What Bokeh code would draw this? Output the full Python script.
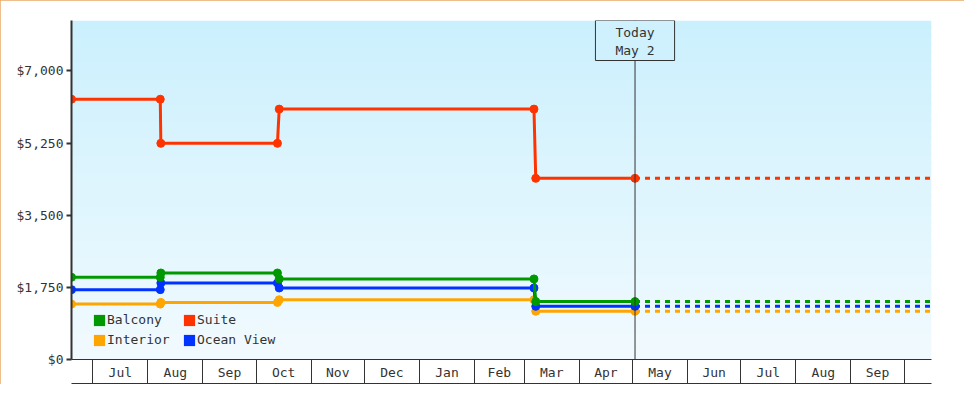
import pandas as pd
from bokeh.plotting import figure
from bokeh.models import (Range1d, FixedTicker, NumeralTickFormatter, DatetimeAxis,
                          BoxAnnotation, Span, Label, Legend, LegendItem,
                          CustomJSTickFormatter)
from bokeh.embed import file_html
from bokeh.resources import INLINE

# ---------------- data ----------------
RANGE_START = "2024-06-19 00:00"
RANGE_END = "2025-10-16 10:00"
TODAY = "2025-05-02 10:00"

obs_dates = ["2024-06-19 00:00", "2024-08-08 00:00", "2024-08-08 08:00",
             "2024-10-13 00:00", "2024-10-14 00:00",
             "2025-03-06 12:00", "2025-03-07 12:00", "2025-05-02 10:00"]
balcony = [1995, 1995, 2099, 2099, 1955, 1955, 1405, 1405]
interior = [1345, 1345, 1385, 1385, 1450, 1450, 1170, 1170]
suite = [6315, 6315, 5245, 5245, 6075, 6075, 4395, 4395]
ocean_view = [1695, 1695, 1855, 1855, 1735, 1735, 1290, 1290]

series_names = ["Balcony", "Interior", "Suite", "Ocean View"]
series_colors = ["#009A00", "#FFA500", "#FF3300", "#0033FF"]

y_ticks = [0, 1750, 3500, 5250, 7000]
y_max = 8225

month_starts = ["2024-07-01", "2024-08-01", "2024-09-01", "2024-10-01", "2024-11-01",
                "2024-12-01", "2025-01-01", "2025-02-01", "2025-03-01", "2025-04-01",
                "2025-05-01", "2025-06-01", "2025-07-01", "2025-08-01", "2025-09-01",
                "2025-10-01"]
month_labels = ["Jul", "Aug", "Sep", "Oct", "Nov", "Dec", "Jan", "Feb", "Mar", "Apr",
                "May", "Jun", "Jul", "Aug", "Sep"]

# ---------------- helpers ----------------
def to_ms(s):
    return int(pd.Timestamp(s).value // 10**6)

FONT = "DejaVu Sans Mono"
INK = "#333333"
GRAD_TOP = (203, 240, 253)
GRAD_BOT = (241, 250, 254)

def grad_color(f):  # f = 0 bottom .. 1 top
    r = [round(b + (t - b) * f) for b, t in zip(GRAD_BOT, GRAD_TOP)]
    return "#%02x%02x%02x" % tuple(r)

boundary_ticks = [to_ms(m) for m in month_starts]
mid_ticks = [(a + b) // 2 for a, b in zip(boundary_ticks[:-1], boundary_ticks[1:])]

dts = pd.to_datetime(obs_dates)
today = pd.Timestamp(TODAY)
range_end = pd.Timestamp(RANGE_END)

# ---------------- figure ----------------
p = figure(width=964, height=384, x_axis_type="datetime",
           x_range=Range1d(pd.Timestamp(RANGE_START), range_end),
           y_range=Range1d(0, y_max),
           output_backend="svg", toolbar_location=None,
           min_border_left=71, min_border_top=20, min_border_right=33,
           min_border_bottom=25)
p.outline_line_color = None
p.grid.visible = False
p.background_fill_color = "white"
p.border_fill_color = "white"
p.styles = {"outline": "1px solid #E8AA66", "outline-offset": "-1px"}

# gradient background of the plot area
N = 40
for i in range(N):
    lo = y_max * i / N
    hi = y_max * min(i + 1.4, N) / N
    p.add_layout(BoxAnnotation(bottom=lo, top=hi, fill_color=grad_color((i + 0.5) / N),
                               fill_alpha=1, line_alpha=0, level="underlay"))

# x axis: month labels between month boundaries
xa = p.xaxis[0]
xa.ticker = FixedTicker(ticks=mid_ticks, minor_ticks=boundary_ticks)
xa.formatter = CustomJSTickFormatter(args=dict(mids=mid_ticks, labs=month_labels),
                                     code="const i = mids.indexOf(tick); return i >= 0 ? labs[i] : '';")
xa.major_tick_in = 0
xa.major_tick_out = 0
xa.minor_tick_in = 0
xa.minor_tick_out = 24
xa.minor_tick_line_color = INK
xa.minor_tick_line_width = 1
xa.axis_line_color = INK
xa.axis_line_width = 1
xa.major_label_standoff = -19
xa.major_label_text_font = FONT
xa.major_label_text_font_size = "13px"
xa.major_label_text_color = INK
xa.axis_label = " "
xa.axis_label_text_font_size = "1px"
xa.axis_label_standoff = -3

# closing line under the month band
xb = DatetimeAxis(ticker=FixedTicker(ticks=[]), axis_line_color=INK, axis_line_width=1,
                  major_tick_line_color=None, minor_tick_line_color=None,
                  major_tick_out=0, major_tick_in=0, minor_tick_out=0, minor_tick_in=0,
                  major_label_text_font_size="0px", major_label_standoff=0)
p.add_layout(xb, "below")

# y axis
ya = p.yaxis[0]
ya.ticker = FixedTicker(ticks=y_ticks)
ya.formatter = NumeralTickFormatter(format="$0,0")
ya.major_tick_in = 0
ya.major_tick_out = 5
ya.major_tick_line_width = 2
ya.major_tick_line_color = INK
ya.minor_tick_line_color = None
ya.axis_line_color = INK
ya.axis_line_width = 2
ya.major_label_standoff = 3
ya.major_label_text_font = FONT
ya.major_label_text_font_size = "13px"
ya.major_label_text_color = INK

# today marker
p.add_layout(Span(location=to_ms(TODAY), dimension="height", line_color=INK, line_width=1))

# series
series_vals = {"Balcony": balcony, "Interior": interior, "Suite": suite,
               "Ocean View": ocean_view}
draw_order = ["Interior", "Ocean View", "Balcony", "Suite"]
for name in draw_order:
    vals = series_vals[name]
    color = series_colors[series_names.index(name)]
    p.line(dts, vals, line_color=color, line_width=3)
    p.scatter(dts, vals, size=8, marker="circle", fill_color=color, line_color=color)
    p.line([today, range_end], [vals[-1], vals[-1]], line_color=color, line_width=3,
           line_dash="5 5")

# today label box (padding: left, right, top, bottom)
p.add_layout(Label(x=to_ms(TODAY), y=y_max, text=f"Today\n{today:%b} {today.day}",
                   text_align="center", text_baseline="top",
                   text_font=FONT, text_font_size="13px", text_color=INK,
                   border_line_color=INK, border_line_width=1,
                   background_fill_color=grad_color(0.93), background_fill_alpha=1,
                   padding=(20, 20, 4, 3)))

# legend with square swatches (zero-size rects, drawn only in the legend)
items = []
for name, color in zip(series_names, series_colors):
    vals = series_vals[name]
    r = p.rect(x=[dts[0]], y=[vals[0]], width=0, height=0, fill_color=color,
               line_color=None)
    items.append(LegendItem(label=name, renderers=[r]))
legend = Legend(items=items, location=(21, 12), orientation="vertical", ncols=2,
                padding=0, margin=0, spacing=5, glyph_width=14, glyph_height=14,
                label_height=14, label_width=70, label_standoff=1,
                label_text_font=FONT, label_text_font_size="13px", label_text_color=INK,
                background_fill_alpha=0, border_line_alpha=0)
p.add_layout(legend)

open("out.html", "w").write(file_html(p, INLINE))
